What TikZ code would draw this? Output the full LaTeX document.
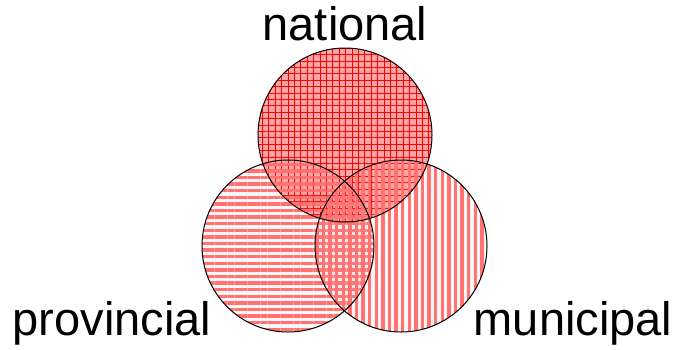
\documentclass[tikz,border=0pt]{standalone}
\usepackage{fontspec}
\setmainfont{Liberation Sans}
\usetikzlibrary{patterns.meta}
\begin{document}
\begin{tikzpicture}[x=0.5pt,y=-0.5pt,
  lbl/.style={font=\fontsize{23.5pt}{28pt}\selectfont, inner sep=0pt},
  setcircle/.style={draw=black, line width=0.5pt}]
\useasboundingbox (0,0) rectangle (679,349);
% national
\fill[red!65, fill opacity=0.55] (345,135) circle (87);
\fill[pattern={Lines[angle=0,distance=3.2pt,line width=0.5pt]}, pattern color=red, fill opacity=0.8] (345,135) circle (87);
\fill[pattern={Lines[angle=90,distance=3.2pt,line width=0.5pt]}, pattern color=red, fill opacity=0.8] (345,135) circle (87);
% provincial
\fill[red!40, fill opacity=0.1] (288,246) circle (86);
\fill[pattern={Lines[angle=0,distance=3.3pt,line width=1.7pt]}, pattern color=red!55, fill opacity=0.7] (288,246) circle (86);
% municipal
\fill[red!40, fill opacity=0.1] (401,246) circle (86);
\fill[pattern={Lines[angle=90,distance=3.3pt,line width=1.7pt]}, pattern color=red!55, fill opacity=0.7] (401,246) circle (86);
\node[setcircle, circle, minimum size=87pt, inner sep=0pt] (nat) at (345,135) {};
\node[setcircle, circle, minimum size=86pt, inner sep=0pt] (prov) at (288,246) {};
\node[setcircle, circle, minimum size=86pt, inner sep=0pt] (mun) at (401,246) {};
\node[lbl, anchor=base] (tn) at (345,40) {national};
\node[lbl, anchor=base] (tp) at (112,335) {provincial};
\node[lbl, anchor=base] (tm) at (573,335) {municipal};
\end{tikzpicture}
\end{document}
